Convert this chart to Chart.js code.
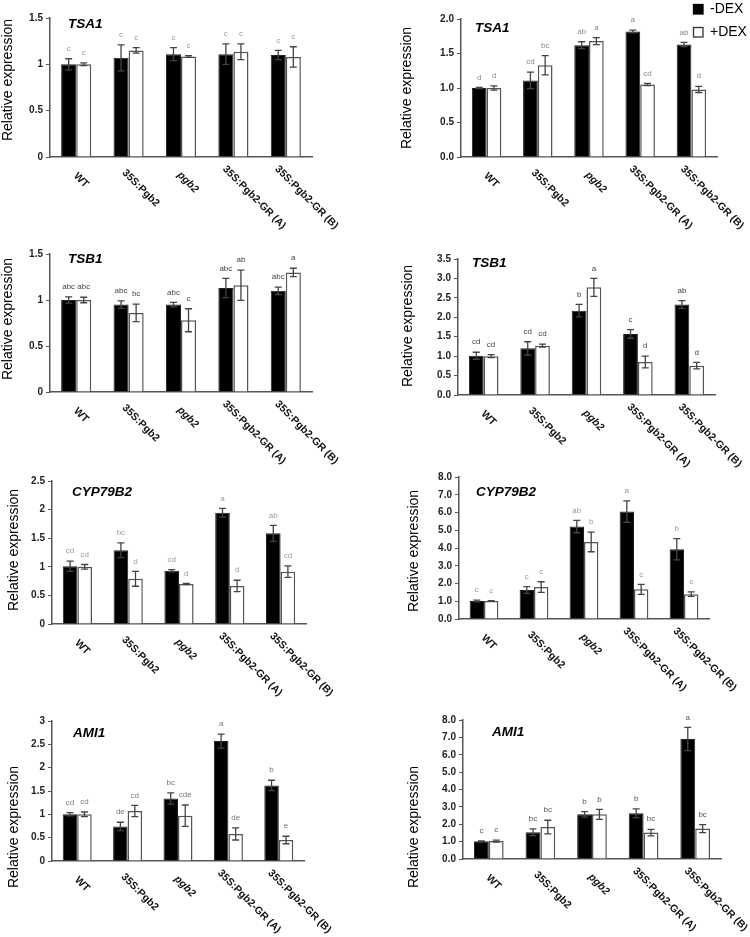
<!DOCTYPE html>
<html>
<head>
<meta charset="utf-8">
<script src="https://cdn.jsdelivr.net/npm/chart.js@4.4.1/dist/chart.umd.min.js"></script>
<style>
  body { margin: 0; background: #fff; overflow: hidden; }
  #wrap { position: relative; width: 750px; height: 937px; overflow: hidden; }
  #wrap canvas { position: absolute; }
</style>
</head>
<body>
<div id="wrap"></div>
<script>
var categories = ['WT', '35S:Pgb2', 'pgb2', '35S:Pgb2-GR (A)', '35S:Pgb2-GR (B)'];
var seriesNames = ['-DEX', '+DEX'];

// tick labels
var ticks15 = ['0', '0.5', '1', '1.5'];
var ticks20 = ['0.0', '0.5', '1.0', '1.5', '2.0'];
var ticks25 = ['0', '0.5', '1', '1.5', '2', '2.5'];
var ticks30 = ['0', '0.5', '1', '1.5', '2', '2.5', '3'];
var ticks35 = ['0.0', '0.5', '1.0', '1.5', '2.0', '2.5', '3.0', '3.5'];
var ticks80 = ['0.0', '1.0', '2.0', '3.0', '4.0', '5.0', '6.0', '7.0', '8.0'];

// TSA1 left
var tsa1L_minus = [1.00, 1.07, 1.11, 1.11, 1.10];
var tsa1L_minusErr = [0.06, 0.14, 0.07, 0.11, 0.05];
var tsa1L_plus = [1.00, 1.15, 1.085, 1.135, 1.08];
var tsa1L_plusErr = [0.015, 0.03, 0.01, 0.085, 0.11];
var tsa1L_minusSig = ['c', 'c', 'c', 'c', 'c'];
var tsa1L_plusSig = ['c', 'c', 'c', 'c', 'c'];

// TSA1 right
var tsa1R_minus = [1.00, 1.11, 1.62, 1.82, 1.63];
var tsa1R_minusErr = [0.01, 0.12, 0.05, 0.02, 0.03];
var tsa1R_plus = [1.00, 1.33, 1.68, 1.05, 0.98];
var tsa1R_plusErr = [0.03, 0.14, 0.05, 0.015, 0.045];
var tsa1R_minusSig = ['d', 'cd', 'ab', 'a', 'ab'];
var tsa1R_plusSig = ['d', 'bc', 'a', 'cd', 'd'];

// TSB1 left
var tsb1L_minus = [1.00, 0.95, 0.95, 1.13, 1.10];
var tsb1L_minusErr = [0.035, 0.04, 0.025, 0.105, 0.04];
var tsb1L_plus = [1.00, 0.86, 0.78, 1.16, 1.30];
var tsb1L_plusErr = [0.03, 0.095, 0.125, 0.165, 0.045];
var tsb1L_minusSig = ['abc', 'abc', 'abc', 'abc', 'abc'];
var tsb1L_plusSig = ['abc', 'bc', 'c', 'ab', 'a'];

// TSB1 right
var tsb1R_minus = [1.01, 1.20, 2.17, 1.57, 2.33];
var tsb1R_minusErr = [0.09, 0.17, 0.16, 0.11, 0.10];
var tsb1R_plus = [1.00, 1.27, 2.77, 0.85, 0.755];
var tsb1R_plusErr = [0.04, 0.04, 0.23, 0.15, 0.085];
var tsb1R_minusSig = ['cd', 'cd', 'b', 'c', 'ab'];
var tsb1R_plusSig = ['cd', 'cd', 'a', 'd', 'd'];

// CYP79B2 left
var cypL_minus = [1.01, 1.29, 0.93, 1.945, 1.585];
var cypL_minusErr = [0.09, 0.13, 0.02, 0.075, 0.14];
var cypL_plus = [1.00, 0.79, 0.70, 0.665, 0.915];
var cypL_plusErr = [0.04, 0.13, 0.01, 0.10, 0.10];
var cypL_minusSig = ['cd', 'bc', 'cd', 'a', 'ab'];
var cypL_plusSig = ['cd', 'd', 'd', 'd', 'cd'];

// CYP79B2 right
var cypR_minus = [1.01, 1.63, 5.21, 6.05, 3.93];
var cypR_minusErr = [0.05, 0.19, 0.35, 0.6, 0.6];
var cypR_plus = [1.01, 1.80, 4.34, 1.67, 1.40];
var cypR_plusErr = [0.02, 0.30, 0.55, 0.28, 0.13];
var cypR_minusSig = ['c', 'c', 'ab', 'a', 'b'];
var cypR_plusSig = ['c', 'c', 'b', 'c', 'c'];

// AMI1 left
var ami1L_minus = [1.00, 0.74, 1.34, 2.57, 1.62];
var ami1L_minusErr = [0.035, 0.09, 0.12, 0.15, 0.11];
var ami1L_plus = [1.00, 1.07, 0.97, 0.58, 0.45];
var ami1L_plusErr = [0.05, 0.12, 0.23, 0.13, 0.08];
var ami1L_minusSig = ['cd', 'de', 'bc', 'a', 'b'];
var ami1L_plusSig = ['cd', 'cd', 'cde', 'de', 'e'];

// AMI1 right
var ami1R_minus = [1.02, 1.54, 2.57, 2.63, 6.91];
var ami1R_minusErr = [0.02, 0.19, 0.16, 0.25, 0.67];
var ami1R_plus = [1.03, 1.84, 2.57, 1.52, 1.75];
var ami1R_plusErr = [0.06, 0.39, 0.29, 0.19, 0.23];
var ami1R_minusSig = ['c', 'bc', 'b', 'b', 'a'];
var ami1R_plusSig = ['c', 'bc', 'b', 'bc', 'bc'];

var FONT = '"Liberation Sans", Arial, sans-serif';
var YW = 30; // y axis box width

// panel layout: canvas slot + plot rect (absolute px), title offset, y title centre
var panels = [
  {gene: 'TSA1', col: 0, top: 0, h: 235, plot: [50, 18, 312, 157], ticks: ticks15,
   minus: tsa1L_minus, minusErr: tsa1L_minusErr, plus: tsa1L_plus, plusErr: tsa1L_plusErr,
   minusSig: tsa1L_minusSig, plusSig: tsa1L_plusSig, sigColor: '#999', title: [18, 10], yTitle: [8, 80]},
  {gene: 'TSA1', col: 1, top: 0, h: 235, plot: [461, 19, 717, 157], ticks: ticks20,
   minus: tsa1R_minus, minusErr: tsa1R_minusErr, plus: tsa1R_plus, plusErr: tsa1R_plusErr,
   minusSig: tsa1R_minusSig, plusSig: tsa1R_plusSig, sigColor: '#888', title: [14, 13], yTitle: [407, 88], legend: true},
  {gene: 'TSB1', col: 0, top: 235, h: 215, plot: [50, 254, 312, 392], ticks: ticks15,
   minus: tsb1L_minus, minusErr: tsb1L_minusErr, plus: tsb1L_plus, plusErr: tsb1L_plusErr,
   minusSig: tsb1L_minusSig, plusSig: tsb1L_plusSig, sigColor: '#444', title: [18, 9], yTitle: [8, 319]},
  {gene: 'TSB1', col: 1, top: 235, h: 215, plot: [458, 259, 715, 395], ticks: ticks35,
   minus: tsb1R_minus, minusErr: tsb1R_minusErr, plus: tsb1R_plus, plusErr: tsb1R_plusErr,
   minusSig: tsb1R_minusSig, plusSig: tsb1R_plusSig, sigColor: '#444', title: [14, 8], yTitle: [408, 326]},
  {gene: 'CYP79B2', col: 0, top: 450, h: 240, plot: [52, 481, 306, 624], ticks: ticks25,
   minus: cypL_minus, minusErr: cypL_minusErr, plus: cypL_plus, plusErr: cypL_plusErr,
   minusSig: cypL_minusSig, plusSig: cypL_plusSig, sigColor: '#999', title: [20, 15], yTitle: [14, 550]},
  {gene: 'CYP79B2', col: 1, top: 450, h: 240, plot: [459, 477, 709, 619], ticks: ticks80,
   minus: cypR_minus, minusErr: cypR_minusErr, plus: cypR_plus, plusErr: cypR_plusErr,
   minusSig: cypR_minusSig, plusSig: cypR_plusSig, sigColor: '#999', title: [17, 19], yTitle: [414, 551]},
  {gene: 'AMI1', col: 0, top: 690, h: 247, plot: [52, 721, 304, 861], ticks: ticks30,
   minus: ami1L_minus, minusErr: ami1L_minusErr, plus: ami1L_plus, plusErr: ami1L_plusErr,
   minusSig: ami1L_minusSig, plusSig: ami1L_plusSig, sigColor: '#777', title: [21, 16], yTitle: [14, 827]},
  {gene: 'AMI1', col: 1, top: 690, h: 247, plot: [463, 720, 721, 859], ticks: ticks80,
   minus: ami1R_minus, minusErr: ami1R_minusErr, plus: ami1R_plus, plusErr: ami1R_plusErr,
   minusSig: ami1R_minusSig, plusSig: ami1R_plusSig, sigColor: '#555', title: [29, 16], yTitle: [414, 827]}
];

function makePanel(p) {
  var left = p.col * 375;
  // canvases overlap the next row so the long rotated labels are not cut off
  var ch = Math.min(p.top + p.h + 70, 937) - p.top;
  var cv = document.createElement('canvas');
  cv.width = 375; cv.height = ch;
  cv.style.left = left + 'px';
  cv.style.top = p.top + 'px';
  document.getElementById('wrap').appendChild(cv);

  var extras = {
    id: 'extras',
    afterDatasetsDraw: function(chart) {
      var ctx = chart.ctx, ys = chart.scales.y, xs = chart.scales.x, ca = chart.chartArea;
      var vals = [p.minus, p.plus], errs = [p.minusErr, p.plusErr], sigs = [p.minusSig, p.plusSig];
      ctx.save();
      // error bars and letters
      for (var d = 0; d < 2; d++) {
        var meta = chart.getDatasetMeta(d);
        meta.data.forEach(function(bar, i) {
          var yt = ys.getPixelForValue(vals[d][i] + errs[d][i]);
          var yb = ys.getPixelForValue(vals[d][i] - errs[d][i]);
          ctx.strokeStyle = '#444';
          ctx.lineWidth = 1.3;
          ctx.beginPath();
          ctx.moveTo(bar.x, yt); ctx.lineTo(bar.x, yb);
          ctx.moveTo(bar.x - 3.5, yt); ctx.lineTo(bar.x + 3.5, yt);
          ctx.moveTo(bar.x - 3.5, yb); ctx.lineTo(bar.x + 3.5, yb);
          ctx.stroke();
          ctx.fillStyle = p.sigColor;
          ctx.font = '8px ' + FONT;
          ctx.textAlign = 'center';
          ctx.textBaseline = 'middle';
          ctx.fillText(sigs[d][i], bar.x, yt - 10);
        });
      }
      // category labels, rotated down to the right; long ones sit a bit further up-left
      ctx.fillStyle = '#111';
      ctx.textAlign = 'left';
      ctx.textBaseline = 'middle';
      categories.forEach(function(c, i) {
        var cx = xs.getPixelForValue(i);
        ctx.font = (c === 'pgb2' ? 'italic ' : '') + 'bold 10.5px ' + FONT;
        var w = ctx.measureText(c).width;
        ctx.save();
        ctx.translate(cx + 1 - 0.12 * w, ca.bottom + 19 - 0.1 * w);
        ctx.rotate(Math.PI / 4);
        ctx.fillText(c, 0, 0);
        ctx.restore();
      });
      // gene name
      ctx.font = 'italic bold 13.5px ' + FONT;
      ctx.fillStyle = '#000';
      ctx.textBaseline = 'alphabetic';
      ctx.fillText(p.gene, ca.left + p.title[0], ca.top + p.title[1]);
      // y title
      ctx.save();
      ctx.translate(p.yTitle[0] - left, p.yTitle[1] - p.top);
      ctx.rotate(-Math.PI / 2);
      ctx.font = '14px ' + FONT;
      ctx.textAlign = 'center';
      ctx.textBaseline = 'middle';
      ctx.fillStyle = '#000';
      ctx.fillText('Relative expression', 0, 0);
      ctx.restore();
      // legend
      if (p.legend) {
        var lx = 693 - left;
        [[4, '#000', '#000'], [27, '#fff', '#333']].forEach(function(s, k) {
          ctx.fillStyle = s[1];
          ctx.fillRect(lx, s[0], 10, 10);
          ctx.strokeStyle = s[2];
          ctx.lineWidth = 1.3;
          ctx.strokeRect(lx + 0.5, s[0] + 0.5, 9.5, 9.5);
          ctx.fillStyle = '#000';
          ctx.font = '14px ' + FONT;
          ctx.textAlign = 'left';
          ctx.textBaseline = 'middle';
          ctx.fillText(seriesNames[k], lx + 17, s[0] + 5.5);
        });
      }
      ctx.restore();
    }
  };

  new Chart(cv.getContext('2d'), {
    type: 'bar',
    data: {
      labels: categories,
      datasets: [
        {label: seriesNames[0], data: p.minus, backgroundColor: '#000', borderColor: '#222', borderWidth: 1},
        {label: seriesNames[1], data: p.plus, backgroundColor: '#fff', borderColor: '#555', borderWidth: 1.5}
      ]
    },
    options: {
      responsive: false,
      animation: false,
      datasets: {bar: {categoryPercentage: 0.575, barPercentage: 1}},
      layout: {padding: {
        left: p.plot[0] - left - YW,
        top: p.plot[1] - p.top,
        right: left + 375 - p.plot[2],
        bottom: p.top + ch - p.plot[3]
      }},
      plugins: {legend: {display: false}, tooltip: {enabled: false}},
      scales: {
        x: {
          ticks: {display: false},
          grid: {display: false},
          border: {color: '#555', width: 1.5},
          afterFit: function(s) { s.height = 0; }
        },
        y: {
          min: 0,
          max: parseFloat(p.ticks[p.ticks.length - 1]),
          ticks: {
            stepSize: parseFloat(p.ticks[1]),
            color: '#222',
            padding: 3,
            font: {family: FONT, size: 10, weight: 'bold'},
            callback: function(v, i) { return p.ticks[i]; }
          },
          grid: {display: true, drawOnChartArea: false, drawTicks: true, tickLength: 4, tickColor: '#555'},
          border: {color: '#555', width: 1.5},
          afterFit: function(s) { s.width = YW; }
        }
      }
    },
    plugins: [extras]
  });
}

panels.forEach(makePanel);
</script>
</body>
</html>
